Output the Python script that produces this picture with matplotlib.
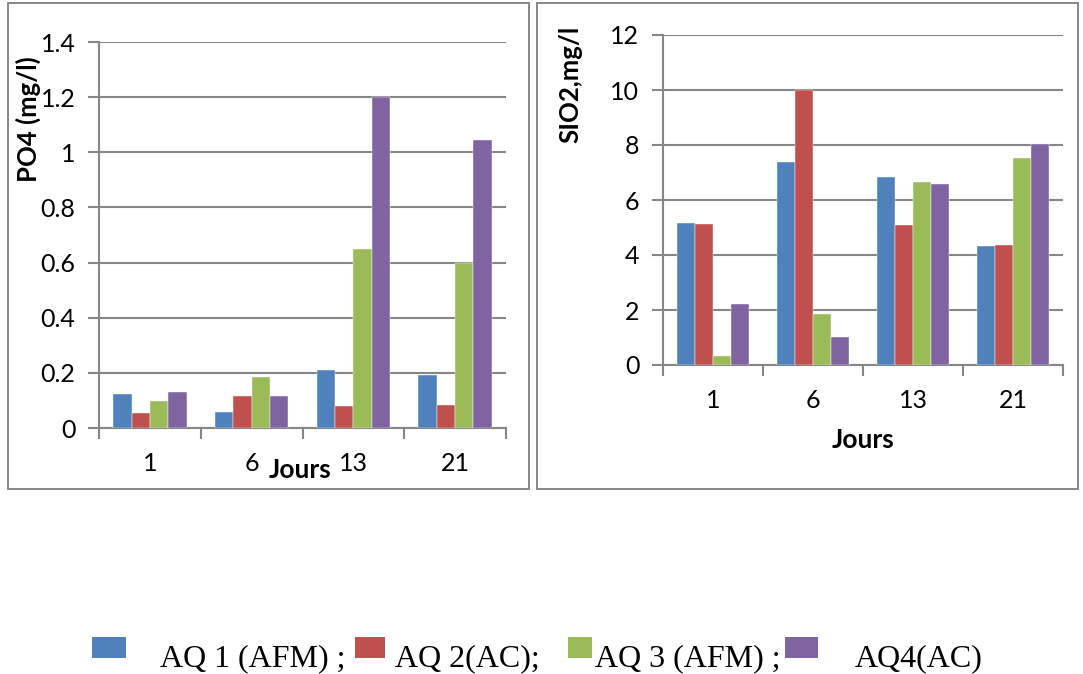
import numpy as np
import matplotlib.pyplot as plt
from matplotlib.patches import Rectangle

# days of sampling and the four aquariums
jours = ['1', '6', '13', '21']
series = ['AQ 1 (AFM) ;', 'AQ 2(AC);', 'AQ 3 (AFM) ;', 'AQ4(AC)']
colors = ['#4F81BD', '#C0504D', '#9BBB59', '#8064A2']

# PO4 (mg/l), one list per aquarium
po4_aq1 = [0.125, 0.058, 0.21, 0.193]
po4_aq2 = [0.055, 0.115, 0.078, 0.085]
po4_aq3 = [0.098, 0.185, 0.65, 0.60]
po4_aq4 = [0.13, 0.115, 1.20, 1.045]

# SiO2 (mg/l)
sio2_aq1 = [5.16, 7.40, 6.82, 4.33]
sio2_aq2 = [5.12, 10.0, 5.09, 4.38]
sio2_aq3 = [0.33, 1.87, 6.65, 7.52]
sio2_aq4 = [2.22, 1.03, 6.57, 8.02]

W, H = 1083, 674
fig = plt.figure(figsize=(W/100, H/100), dpi=100)
grid_c = '#868686'
tick_font = 'Lato'


def px(x0, y0, x1, y1):
    # pixel box (top-left origin) -> figure fraction rect
    return [x0/W, 1-y1/H, (x1-x0)/W, (y1-y0)/H]


def bar_panel(rect, data, ymax, ystep, ylab, ylab_xy, xlab_xy, fmt):
    ax = fig.add_axes(rect)
    x = np.arange(len(jours))
    bw = 0.18
    for i, vals in enumerate(data):
        ax.bar(x + (i-1.5)*bw, vals, bw, color=colors[i], zorder=3,
               edgecolor='white', linewidth=0.3)
    ax.set_xlim(-0.5, len(jours)-0.5)
    ax.set_ylim(0, ymax)
    yt = np.arange(0, ymax+ystep/2, ystep)
    ax.set_yticks(yt)
    ax.set_yticklabels([fmt(v) for v in yt], fontsize=18, family=tick_font)
    ax.yaxis.grid(True, color=grid_c, lw=1.5, zorder=0)
    ax.set_xticks(np.arange(-0.5, len(jours)), labels=[])
    ax.set_xticks(x, labels=jours, minor=True)
    ax.tick_params(axis='x', which='major', direction='out', length=8,
                   color=grid_c, width=1.5)
    ax.tick_params(axis='x', which='minor', length=0, pad=17, labelsize=18)
    for t in ax.get_xticklabels(minor=True):
        t.set_family(tick_font)
    ax.tick_params(axis='y', direction='out', length=8, color=grid_c,
                   width=1.5, pad=9)
    for s in ['top', 'right']:
        ax.spines[s].set_visible(False)
    for s in ['left', 'bottom']:
        ax.spines[s].set_color(grid_c)
        ax.spines[s].set_linewidth(1.5)
    ax.set_ylabel(ylab, fontsize=18.5, fontweight='bold', family=tick_font)
    ax.yaxis.set_label_coords(*ylab_xy)
    ax.text(xlab_xy[0], xlab_xy[1], 'Jours', transform=ax.transAxes,
            ha='center', va='center', fontsize=19, fontweight='bold',
            family=tick_font)
    return ax


# outer frames of the two chart areas
for box in [(8, 3, 529, 489), (537, 3, 1078, 489)]:
    r = px(*box)
    fig.patches.append(Rectangle((r[0], r[1]), r[2], r[3], transform=fig.transFigure,
                                 fill=False, edgecolor=grid_c, lw=1.4))

bar_panel(px(99, 42, 506, 428), [po4_aq1, po4_aq2, po4_aq3, po4_aq4],
          1.4, 0.2, 'PO4 (mg/l)', (-0.142, 0.80), (0.494, -0.109),
          lambda v: '0' if v == 0 else ('1' if abs(v-1) < 1e-9 else f'{v:.1f}'))

bar_panel(px(663, 35, 1063, 365), [sio2_aq1, sio2_aq2, sio2_aq3, sio2_aq4],
          12, 2, 'SIO2,mg/l', (-0.2025, 0.85), (0.5, -0.227),
          lambda v: f'{v:.0f}')

# legend row along the bottom
sq = [(92, 126), (355, 385), (568, 592), (785, 818)]
txt_x = [160, 395, 595, 855]
for (x0, x1), tx, c, lab in zip(sq, txt_x, colors, series):
    r = px(x0, 637, x1, 658)
    fig.patches.append(Rectangle((r[0], r[1]), r[2], r[3], transform=fig.transFigure,
                                 facecolor=c, edgecolor='none'))
    fig.text(tx/W, 1-666/H, lab, ha='left', va='baseline', fontsize=23,
             family='Liberation Serif')

fig.savefig('out.png', dpi=100)
